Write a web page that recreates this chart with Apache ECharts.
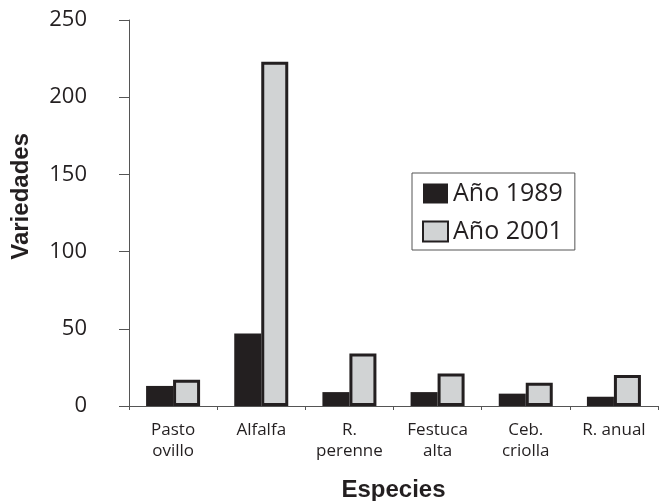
<!DOCTYPE html>
<html>
<head>
<meta charset="utf-8">
<script src="https://cdn.jsdelivr.net/npm/echarts@6/dist/echarts.min.js"></script>
<style>
  html, body { margin: 0; padding: 0; background: #fff; }
  #chart { width: 661px; height: 501px; }
</style>
</head>
<body>
<div id="chart"></div>
<script>
// especies y valores
var especies = ['Pasto\novillo', 'Alfalfa', 'R.\nperenne', 'Festuca\nalta', 'Ceb.\ncriolla', 'R. anual'];
var anio1989 = [13, 47, 9, 9, 8, 6];
var anio2001 = [17, 223, 34, 21, 15, 20];
var yTicks = [0, 50, 100, 150, 200, 250];

var font = '"Open Sans", "Noto Sans", sans-serif';
var boldFont = '"Liberation Sans", Arial, sans-serif';
var myChart = echarts.init(document.getElementById('chart'));
myChart.setOption({
    backgroundColor: '#fff',
    animation: false,
    grid: { left: 129, right: 3, top: 20, bottom: 95, outerBoundsMode: 'none', containLabel: false },
    legend: {
        orient: 'vertical',
        left: 412,
        top: 173,
        padding: [8, 12, 6, 10],
        itemWidth: 25,
        itemHeight: 20,
        itemGap: 13,
        icon: 'rect',
        borderColor: '#555',
        borderWidth: 1,
        textStyle: { fontFamily: font, fontSize: 25, color: '#231f20' },
        data: ['Año 1989', 'Año 2001']
    },
    graphic: [{
        type: 'text',
        left: 9,
        top: 133,
        rotation: Math.PI / 2,
        style: {
            text: 'Variedades',
            fontFamily: boldFont,
            fontSize: 24,
            fontWeight: 'bold',
            fill: '#231f20'
        }
    }],
    xAxis: {
        type: 'category',
        data: especies,
        name: 'Especies',
        nameLocation: 'middle',
        nameGap: 72,
        nameTextStyle: { fontFamily: boldFont, fontSize: 24, fontWeight: 'bold', color: '#231f20' },
        axisLine: { lineStyle: { color: '#555', width: 1 } },
        axisTick: { show: true, length: 4, lineStyle: { color: '#555' } },
        axisLabel: { fontFamily: font, fontSize: 17, color: '#231f20', lineHeight: 21, margin: 14 }
    },
    yAxis: {
        type: 'value',
        min: yTicks[0],
        max: yTicks[yTicks.length - 1],
        interval: 50,
        axisLine: { show: true, lineStyle: { color: '#555', width: 1 } },
        axisTick: { show: true, length: 10, lineStyle: { color: '#555' } },
        axisLabel: { fontFamily: font, fontSize: 22, color: '#231f20', margin: 42 },
        splitLine: { show: false }
    },
    series: [
        {
            name: 'Año 1989',
            type: 'bar',
            barWidth: 27,
            barGap: '0%',
            itemStyle: { color: '#231f20', borderRadius: 0 },
            data: anio1989
        },
        {
            name: 'Año 2001',
            type: 'bar',
            barWidth: 27,
            itemStyle: { color: '#d1d3d4', borderColor: '#231f20', borderWidth: 3, borderRadius: 0 },
            data: anio2001
        }
    ]
});
</script>
</body>
</html>
